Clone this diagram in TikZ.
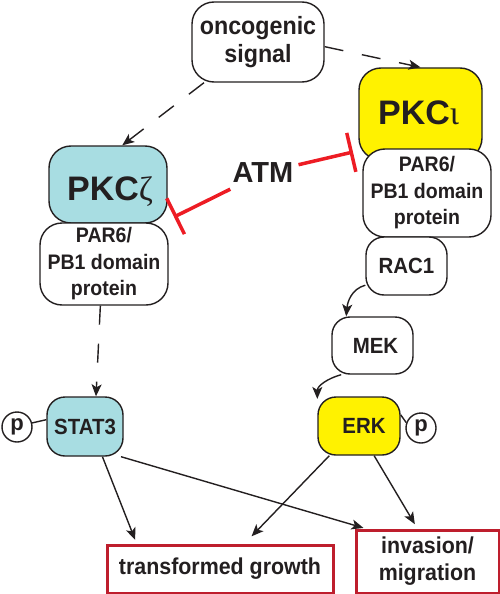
\documentclass[tikz,border=0pt]{standalone}
\usepackage{fontspec}
\setmainfont{Liberation Sans}
\newfontfamily\condsans{Liberation Sans}[FakeStretch=0.93]
\newfontfamily\greekserif{Liberation Serif}
\usetikzlibrary{arrows.meta}
\definecolor{txt}{HTML}{231F20}
\definecolor{kyellow}{HTML}{FFF200}
\definecolor{kblue}{HTML}{A8DDE2}
\definecolor{inhred}{HTML}{ED1C24}
\definecolor{boxred}{HTML}{BE1E2D}
\tikzset{
  prot/.style={draw=txt, line width=1.4pt, rounded corners=18pt, fill=white,
    text=txt, font=\condsans\bfseries\fontsize{22}{26}\selectfont, align=center, inner sep=0pt},
  parsix/.style={prot, rounded corners=22pt, font=\condsans\bfseries\fontsize{21}{26.5}\selectfont},
  biglab/.style={text=txt, inner sep=0pt, font=\bfseries\fontsize{34}{36}\selectfont},
  phos/.style={circle, draw=txt, line width=1.4pt, fill=white, minimum size=30pt,
    inner sep=0pt, text=txt, font=\bfseries\fontsize{22}{22}\selectfont},
  outcome/.style={draw=boxred, line width=3pt, fill=white, text=txt,
    font=\condsans\bfseries\fontsize{23}{27}\selectfont, align=center, inner sep=0pt},
  act/.style={draw=txt, line width=1.4pt, -{Stealth[length=12pt,width=10pt,inset=3pt]}},
  dasharrow/.style={act, dash pattern=on 19pt off 19pt},
  inhib/.style={draw=inhred, line width=3.5pt, -{Bar[width=40pt,line width=3.5pt]}},
}
\begin{document}
\begin{tikzpicture}[x=1pt,y=-1pt]
\useasboundingbox (0,0) rectangle (500,594);
% nodes
\node[prot, minimum width=132pt, minimum height=80pt, rounded corners=22pt,
  font=\condsans\bfseries\fontsize{25}{28}\selectfont] (onc) at (258,42) {oncogenic\\signal};
\node[prot, rounded corners=22pt, fill=kyellow, minimum width=123pt, minimum height=92pt] (pkci) at (420.5,114) {};
\node[biglab, anchor=base west] (pkcilab) at (378,124) {PKC{\greekserif\mdseries ι}};
\node[parsix, minimum width=128pt, minimum height=88pt] (par6r) at (427,193) {PAR6/\\PB1 domain\\protein};
\node[prot, minimum width=81pt, minimum height=58pt] (rac1) at (406.5,266) {RAC1};
\node[prot, rounded corners=22pt, fill=kblue, minimum width=118pt, minimum height=77pt] (pkcz) at (108,184.5) {};
\node[biglab, anchor=base west] (pkczlab) at (67,200) {PKC{\greekserif\mdseries ζ}};
\node[parsix, minimum width=128pt, minimum height=82pt] (par6l) at (104,264) {PAR6/\\PB1 domain\\protein};
\node[prot, fill=kblue, minimum width=76pt, minimum height=59pt] (stat3) at (85,426.5) {STAT3};
\node[prot, minimum width=81pt, minimum height=57pt] (mek) at (372.5,345.5) {\hspace*{6pt}MEK};
\node[prot, fill=kyellow, minimum width=82pt, minimum height=58pt] (erk) at (359,426) {\hspace*{10pt}ERK};
\node[phos] (pl) at (17,427) {p};
\node[phos] (pr) at (421,428) {p};
\node[outcome, minimum width=226pt, minimum height=48pt] (tg) at (220,569) {transformed growth};
\node[outcome, minimum width=143pt, minimum height=63pt] (im) at (427.5,561.5) {invasion/\\migration};
\node[text=txt, font=\bfseries\fontsize{29}{30}\selectfont, inner xsep=5pt, inner ysep=6pt] (atm) at (263,173) {ATM};
\coordinate (ir) at (353,152);
\coordinate (il) at (174,217);
% connectors
\draw[dasharrow] (onc.-4) -- (pkci.north);
\draw[dasharrow] (onc.217) -- (pkcz.70);
\draw[dasharrow] (par6l.265) -- (stat3.70);
\draw[inhib] (atm) -- (ir);
\draw[inhib] (atm) -- (il);
\draw[act] (rac1.205) to[out=195, in=85] (mek.132);
\draw[act] (mek.223) to[out=195, in=90] (erk.147);
\draw[draw=txt, line width=1.4pt] (pl.15) -- (stat3.170);
\draw[draw=txt, line width=1.4pt] (erk.15) -- (pr.160);
\draw[act, shorten >=4pt] (stat3.-60) -- (tg.163);
\draw[act, shorten >=2pt] (stat3.-40) -- (im.152);
\draw[act, shorten >=10pt] (erk.225) -- (tg.46);
\draw[act, shorten >=5pt] (erk.-63) -- (im.107);
\end{tikzpicture}
\end{document}
